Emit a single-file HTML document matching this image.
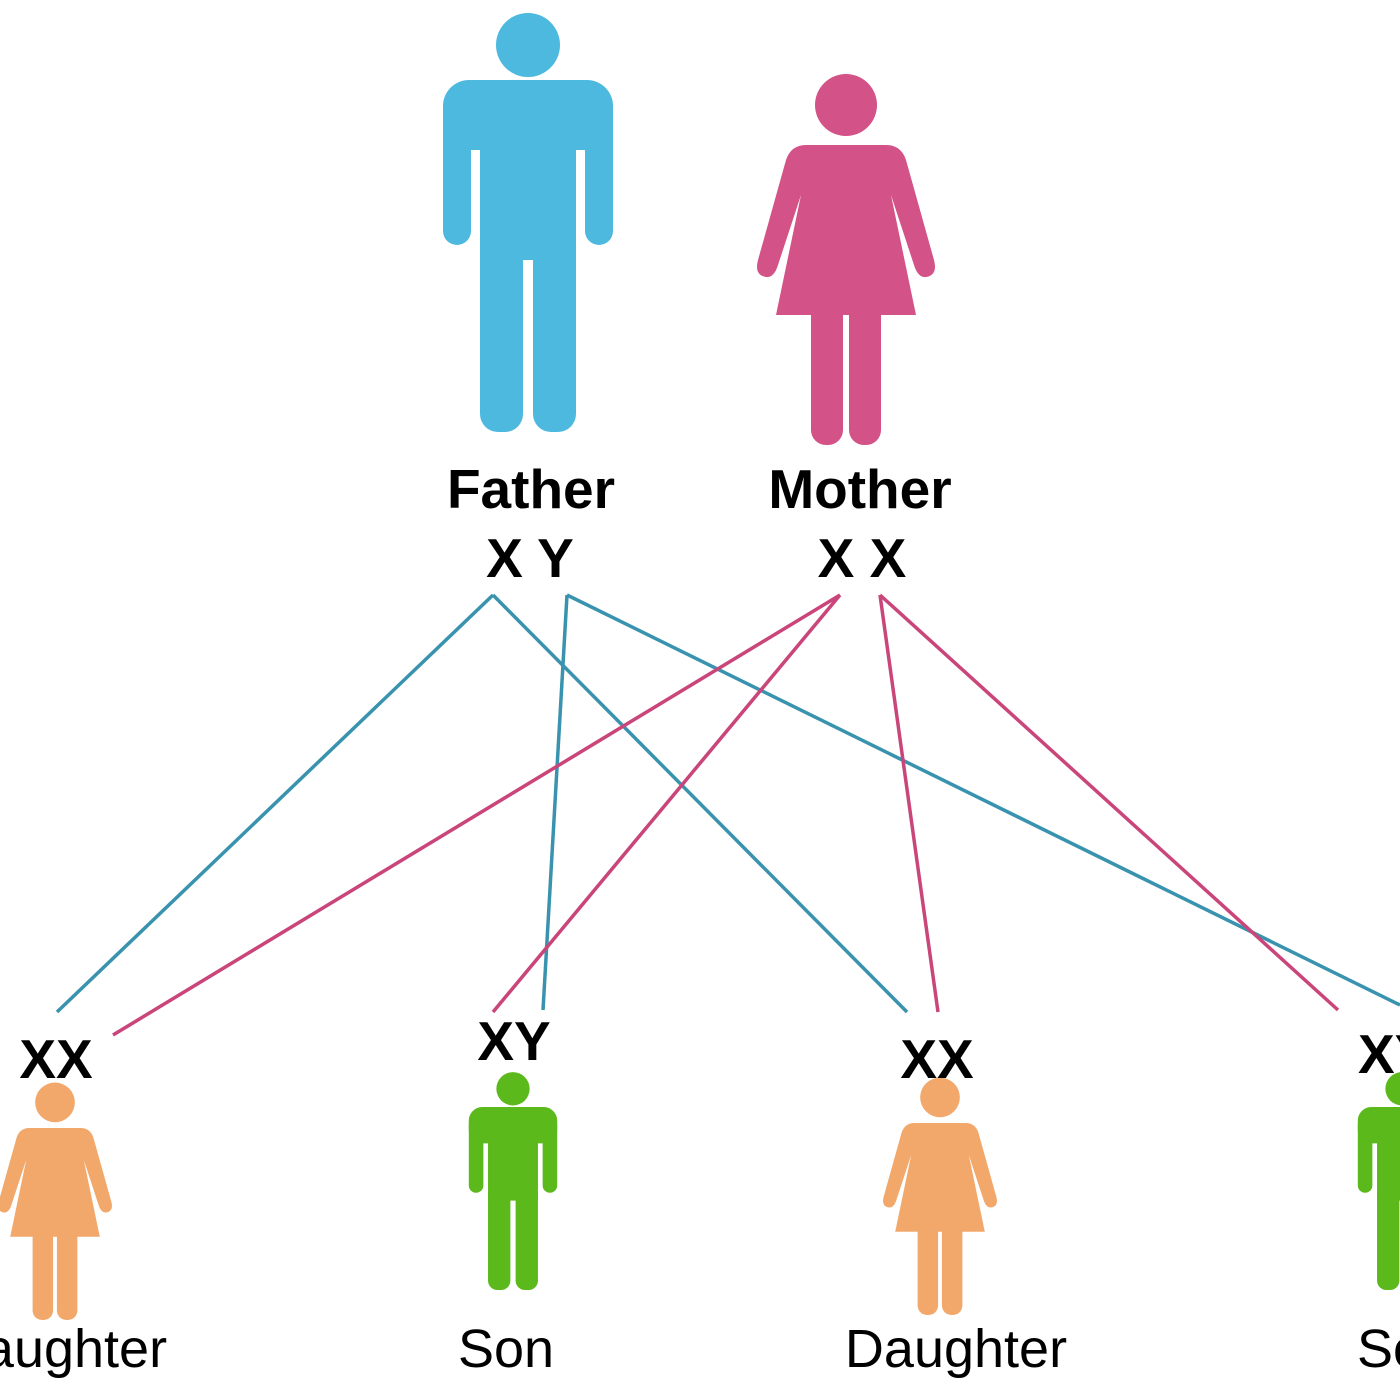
<!DOCTYPE html>
<html><head><meta charset="utf-8"><style>
html,body{margin:0;padding:0;background:#fff;}
svg{display:block}
text{font-family:"Liberation Sans",Arial,sans-serif;fill:#000}
</style></head><body>
<svg width="1400" height="1400" viewBox="0 0 1400 1400" xmlns="http://www.w3.org/2000/svg">
<defs>
<g id="man">
  <circle cx="0" cy="-35" r="32"/>
  <rect x="-85" y="0" width="170" height="70" rx="26"/>
  <rect x="-85" y="20" width="28" height="145" rx="14"/>
  <rect x="57" y="20" width="28" height="145" rx="14"/>
  <rect x="-48" y="30" width="96" height="150"/>
  <rect x="-48" y="150" width="43" height="202" rx="18"/>
  <rect x="5" y="150" width="43" height="202" rx="18"/>
</g>
<g id="woman">
  <circle cx="0" cy="-40" r="31"/>
  <path d="M-40,0 H40 Q55,0 60,15 L88,115 Q92,130 80,132 Q72,133 68,120 L45,50 L70,170 H-70 L-45,50 L-68,120 Q-72,133 -80,132 Q-92,130 -88,115 L-60,15 Q-55,0 -40,0 Z"/>
  <rect x="-35" y="150" width="32" height="150" rx="15"/>
  <rect x="3" y="150" width="32" height="150" rx="15"/>
</g>
</defs>

<g fill="#4db9df" transform="translate(528,80)"><use href="#man"/></g>
<g fill="#d35287" transform="translate(846,145)"><use href="#woman"/></g>

<g fill="#f2a86b" transform="translate(55,1128) scale(0.64)"><use href="#woman"/></g>
<g fill="#f2a86b" transform="translate(940,1123) scale(0.64)"><use href="#woman"/></g>
<g fill="#5bb91c" transform="translate(513,1107) scale(0.52)"><use href="#man"/></g>
<g fill="#5bb91c" transform="translate(1402,1107) scale(0.52)"><use href="#man"/></g>

<g stroke="#3a93ae" stroke-width="3.5" fill="none">
  <line x1="493" y1="595" x2="57" y2="1012"/>
  <line x1="493" y1="595" x2="907" y2="1012"/>
  <line x1="567" y1="595" x2="543" y2="1010"/>
  <line x1="567" y1="595" x2="1400" y2="1005"/>
</g>
<g stroke="#c9457a" stroke-width="3.5" fill="none">
  <line x1="840" y1="595" x2="113" y2="1035"/>
  <line x1="840" y1="595" x2="493" y2="1012"/>
  <line x1="880" y1="595" x2="938" y2="1012"/>
  <line x1="880" y1="595" x2="1338" y2="1010"/>
</g>

<g font-weight="bold" font-size="55" text-anchor="middle">
  <text x="531" y="508">Father</text>
  <text x="530" y="577">X Y</text>
  <text x="860" y="508">Mother</text>
  <text x="862" y="577">X X</text>
  <text x="56" y="1078">XX</text>
  <text x="514" y="1060">XY</text>
  <text x="937" y="1078">XX</text>
  <text x="1358" y="1073" text-anchor="start">XY</text>
</g>
<g font-size="54" text-anchor="middle">
  <text x="56" y="1367">Daughter</text>
  <text x="506" y="1367">Son</text>
  <text x="956" y="1367">Daughter</text>
  <text x="1357" y="1367" text-anchor="start">Son</text>
</g>
</svg>
</body></html>
